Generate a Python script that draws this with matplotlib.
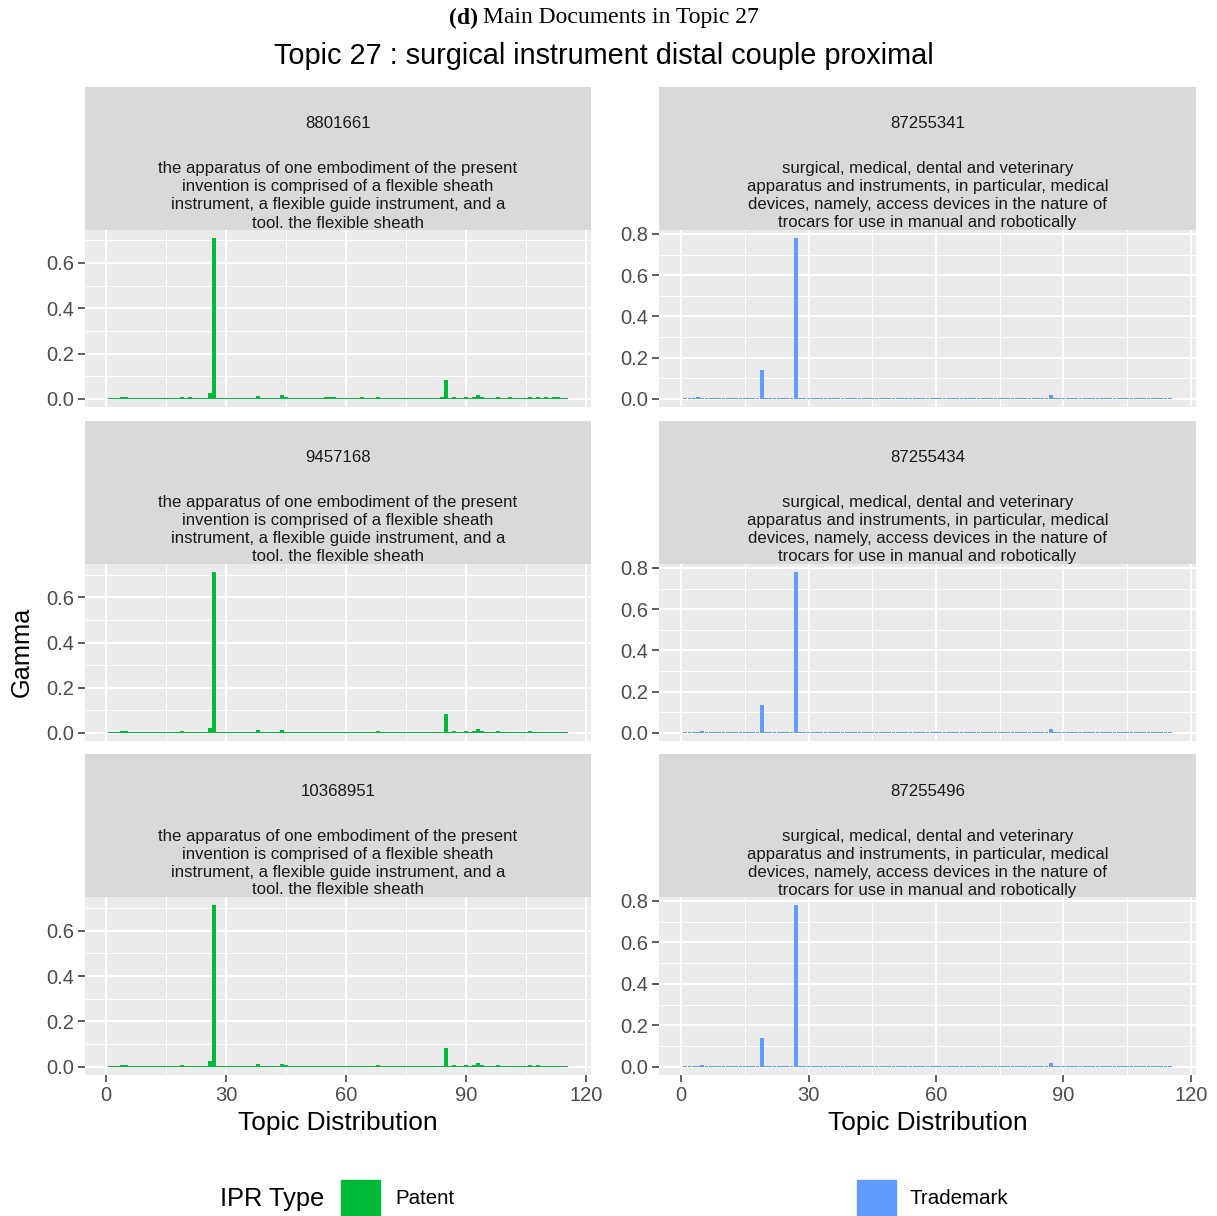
import numpy as np
import matplotlib
matplotlib.use('Agg')
import matplotlib.pyplot as plt
from matplotlib.patches import Rectangle
from matplotlib.ticker import MultipleLocator

# topic ids 1..115 on the x axis
n_topics = 115
gamma_floor = 0.004   # the thin baseline every topic sits at

# patent documents (left column)
patent_ids = ['8801661', '9457168', '10368951']
patent_text = ['the apparatus of one embodiment of the present',
               'invention is comprised of a flexible sheath',
               'instrument, a flexible guide instrument, and a',
               'tool. the flexible sheath']
pat1_topics = [4, 5, 19, 21, 26, 27, 38, 44, 45, 55, 56, 57, 64, 68, 84, 85, 87,
               90, 92, 93, 94, 98, 101, 106, 108, 110, 112, 113]
pat1_gamma = [0.008, 0.008, 0.008, 0.007, 0.026, 0.710, 0.013, 0.018, 0.008, 0.007,
              0.007, 0.007, 0.007, 0.007, 0.007, 0.084, 0.007, 0.007, 0.007, 0.018,
              0.008, 0.010, 0.007, 0.010, 0.007, 0.007, 0.007, 0.007]
pat2_topics = [4, 5, 19, 26, 27, 38, 44, 68, 85, 87, 90, 92, 93, 94, 98, 106]
pat2_gamma = [0.008, 0.008, 0.008, 0.024, 0.712, 0.011, 0.015, 0.008, 0.085, 0.008,
              0.008, 0.008, 0.019, 0.008, 0.008, 0.008]
pat3_topics = [4, 5, 19, 26, 27, 38, 44, 45, 68, 85, 87, 90, 92, 93, 94, 98, 106, 108]
pat3_gamma = [0.008, 0.008, 0.008, 0.024, 0.712, 0.011, 0.015, 0.008, 0.008, 0.085,
              0.008, 0.008, 0.008, 0.019, 0.008, 0.008, 0.008, 0.008]

# trademark documents (right column)
trademark_ids = ['87255341', '87255434', '87255496']
trademark_text = ['surgical, medical, dental and veterinary',
                  'apparatus and instruments, in particular, medical',
                  'devices, namely, access devices in the nature of',
                  'trocars for use in manual and robotically']
tm1_topics = [4, 5, 19, 27, 38, 45, 64, 68, 85, 87, 92, 93]
tm1_gamma = [0.008, 0.007, 0.140, 0.780, 0.007, 0.007, 0.007, 0.007, 0.007, 0.019,
             0.007, 0.007]
tm2_topics = [5, 19, 27, 87]
tm2_gamma = [0.008, 0.137, 0.780, 0.021]
tm3_topics = [5, 19, 27, 87]
tm3_gamma = [0.008, 0.137, 0.780, 0.021]

patent_color = '#00BA38'
trademark_color = '#619CFF'

plt.rcParams['font.family'] = ['Liberation Sans', 'DejaVu Sans']

W, H = 1217, 1216
fig = plt.figure(figsize=(W / 100, H / 100), dpi=100)


def px_axes(x0, y0, x1, y1):
    return fig.add_axes([x0 / W, 1 - y1 / H, (x1 - x0) / W, (y1 - y0) / H])


def ftext(x, y, s, **kw):
    return fig.text(x / W, 1 - y / H, s, **kw)


def full_series(topics, gamma):
    vals = np.full(n_topics, gamma_floor)
    for t, g in zip(topics, gamma):
        vals[t - 1] = g
    return vals


columns = [
    (85, 591, patent_ids, patent_text, patent_color,
     [(pat1_topics, pat1_gamma), (pat2_topics, pat2_gamma), (pat3_topics, pat3_gamma)]),
    (659, 1196, trademark_ids, trademark_text, trademark_color,
     [(tm1_topics, tm1_gamma), (tm2_topics, tm2_gamma), (tm3_topics, tm3_gamma)]),
]
rows = [(87, 230, 407), (421, 564, 741), (754, 897, 1075)]

x = np.arange(1, n_topics + 1)
for x0, x1, ids, lines, color, docs in columns:
    for r, ((st, sb, pb), doc_id, (topics, gamma)) in enumerate(zip(rows, ids, docs)):
        # facet strip
        sax = px_axes(x0, st, x1, sb)
        sax.set_facecolor('#D9D9D9')
        sax.set_xticks([])
        sax.set_yticks([])
        for sp in sax.spines.values():
            sp.set_visible(False)
        cx = (x0 + x1) / 2
        ftext(cx, st + 37, doc_id, ha='center', va='center', fontsize=12.05, color='#1A1A1A')
        for i, line in enumerate(lines):
            ftext(cx, st + 82 + i * 18, line, ha='center', va='center',
                  fontsize=12.05, color='#1A1A1A')

        ax = px_axes(x0, sb, x1, pb)
        vals = full_series(topics, gamma)
        ax.bar(x, vals, width=0.9, color=color)
        ymax = vals.max()
        ax.set_ylim(-0.05 * ymax, ymax * 1.05)
        ax.set_xlim(0.55 - 0.05 * 114.9, 115.45 + 0.05 * 114.9)
        ax.set_facecolor('#EBEBEB')
        ax.xaxis.set_major_locator(MultipleLocator(30))
        ax.xaxis.set_minor_locator(MultipleLocator(15))
        ax.yaxis.set_major_locator(MultipleLocator(0.2))
        ax.yaxis.set_minor_locator(MultipleLocator(0.1))
        ax.yaxis.set_major_formatter(matplotlib.ticker.FormatStrFormatter('%.1f'))
        ax.grid(which='major', color='white', lw=1.4)
        ax.grid(which='minor', color='white', lw=0.7)
        ax.set_axisbelow(True)
        for sp in ax.spines.values():
            sp.set_visible(False)
        ax.tick_params(which='minor', length=0)
        ax.tick_params(axis='y', length=5, width=1.1, color='#333333',
                       labelsize=14.5, labelcolor='#4D4D4D', pad=3)
        if r == 2:
            ax.tick_params(axis='x', length=5, width=1.1, color='#333333',
                           labelsize=14.5, labelcolor='#4D4D4D', pad=3)
        else:
            ax.tick_params(axis='x', length=0, labelbottom=False)

    ftext((x0 + x1) / 2, 1123, 'Topic Distribution', ha='center', va='center', fontsize=18.9)

ftext(22, 652, 'Gamma', ha='center', va='center', rotation=90, fontsize=18.3)

ftext(604, 56, 'Topic 27 : surgical instrument distal couple proximal',
      ha='center', va='center', fontsize=20.8)
ftext(478, 18, '(d)', ha='right', va='center', fontsize=17,
      family='Liberation Serif', fontweight='bold')
ftext(483, 18, 'Main Documents in Topic 27', ha='left', va='center', fontsize=17,
      family='Liberation Serif')

# legend
ftext(220, 1199, 'IPR Type', ha='left', va='center', fontsize=18.3)
fig.add_artist(Rectangle((341 / W, 1 - 1217 / H), 39 / W, 37 / H,
                         transform=fig.transFigure, color=patent_color))
ftext(395, 1199, 'Patent', ha='left', va='center', fontsize=14.8)
fig.add_artist(Rectangle((857 / W, 1 - 1217 / H), 39 / W, 37 / H,
                         transform=fig.transFigure, color=trademark_color))
ftext(910, 1199, 'Trademark', ha='left', va='center', fontsize=14.8)

fig.savefig('out.png', dpi=100)
